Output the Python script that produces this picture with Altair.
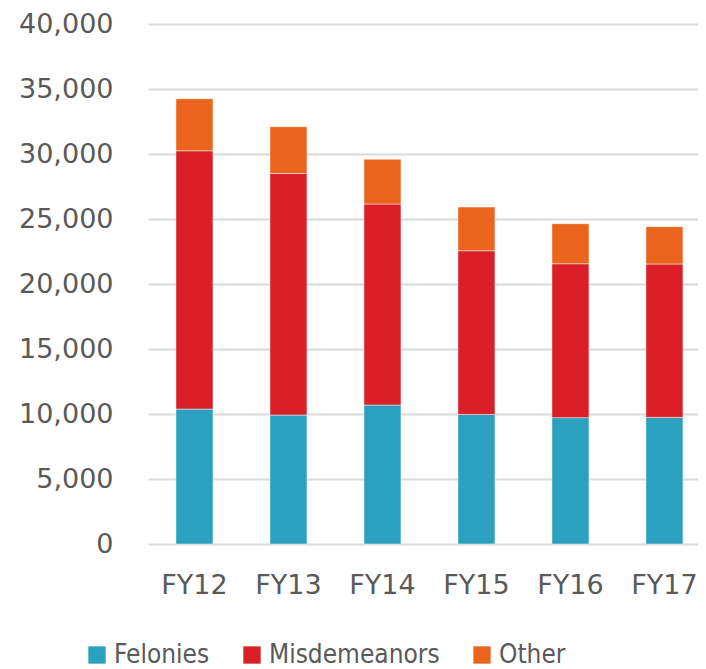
import altair as alt
import pandas as pd

years = ["FY12", "FY13", "FY14", "FY15", "FY16", "FY17"]
felonies = [10380, 9920, 10690, 9970, 9720, 9740]
misdemeanors = [19870, 18580, 15460, 12590, 11840, 11800]
other = [4000, 3600, 3450, 3360, 3080, 2870]

categories = ["Felonies", "Misdemeanors", "Other"]
colors = ["#2BA1BF", "#DA1F28", "#EA641D"]

rows = []
for i, y in enumerate(years):
    for k, (cat, vals) in enumerate(zip(categories, [felonies, misdemeanors, other])):
        rows.append({"year": y, "type": cat, "value": vals[i], "order": k})
df = pd.DataFrame(rows)

AXFONT = "DejaVu Sans"
LEGFONT = "DejaVu Sans Condensed, sans-serif"
TXT = "#595959"

chart = alt.Chart(df).mark_bar(stroke="#ffffff", strokeWidth=0.8, strokeOpacity=0.6).encode(
    x=alt.X("year:N", sort=years, title=None,
            scale=alt.Scale(paddingInner=0.606, paddingOuter=0.2287, align=0.65),
            axis=alt.Axis(labelAngle=0, ticks=False, domain=False, labelFontSize=27,
                          labelFont=AXFONT, labelColor=TXT, labelPadding=28)),
    y=alt.Y("value:Q", title=None, stack="zero",
            scale=alt.Scale(domain=[0, 40000]),
            axis=alt.Axis(values=list(range(0, 40001, 5000)), format=",.0f", ticks=False,
                          domain=False, labelFontSize=27, labelFont=AXFONT,
                          labelColor=TXT, labelPadding=35,
                          gridColor="#d9d9d9", gridWidth=2)),
    color=alt.Color("type:N", sort=categories,
                    scale=alt.Scale(domain=categories, range=colors),
                    legend=alt.Legend(title=None, orient="none", direction="horizontal",
                                      legendX=-64, legendY=618,
                                      symbolType="square", symbolSize=300,
                                      symbolStrokeWidth=0, labelFontSize=26,
                                      labelFont=LEGFONT, labelColor=TXT,
                                      labelLimit=400,
                                      columnPadding=29, labelOffset=4)),
    order=alt.Order("order:Q", sort="ascending"),
).properties(
    width=550, height=520,
    autosize=alt.AutoSizeParams(type="none"),
    padding={"left": 140, "top": 16, "right": 0, "bottom": 128},
    background="#ffffff",
).configure_view(stroke=None)

chart.save("out.html", embed_options={"renderer": "svg", "actions": False})
